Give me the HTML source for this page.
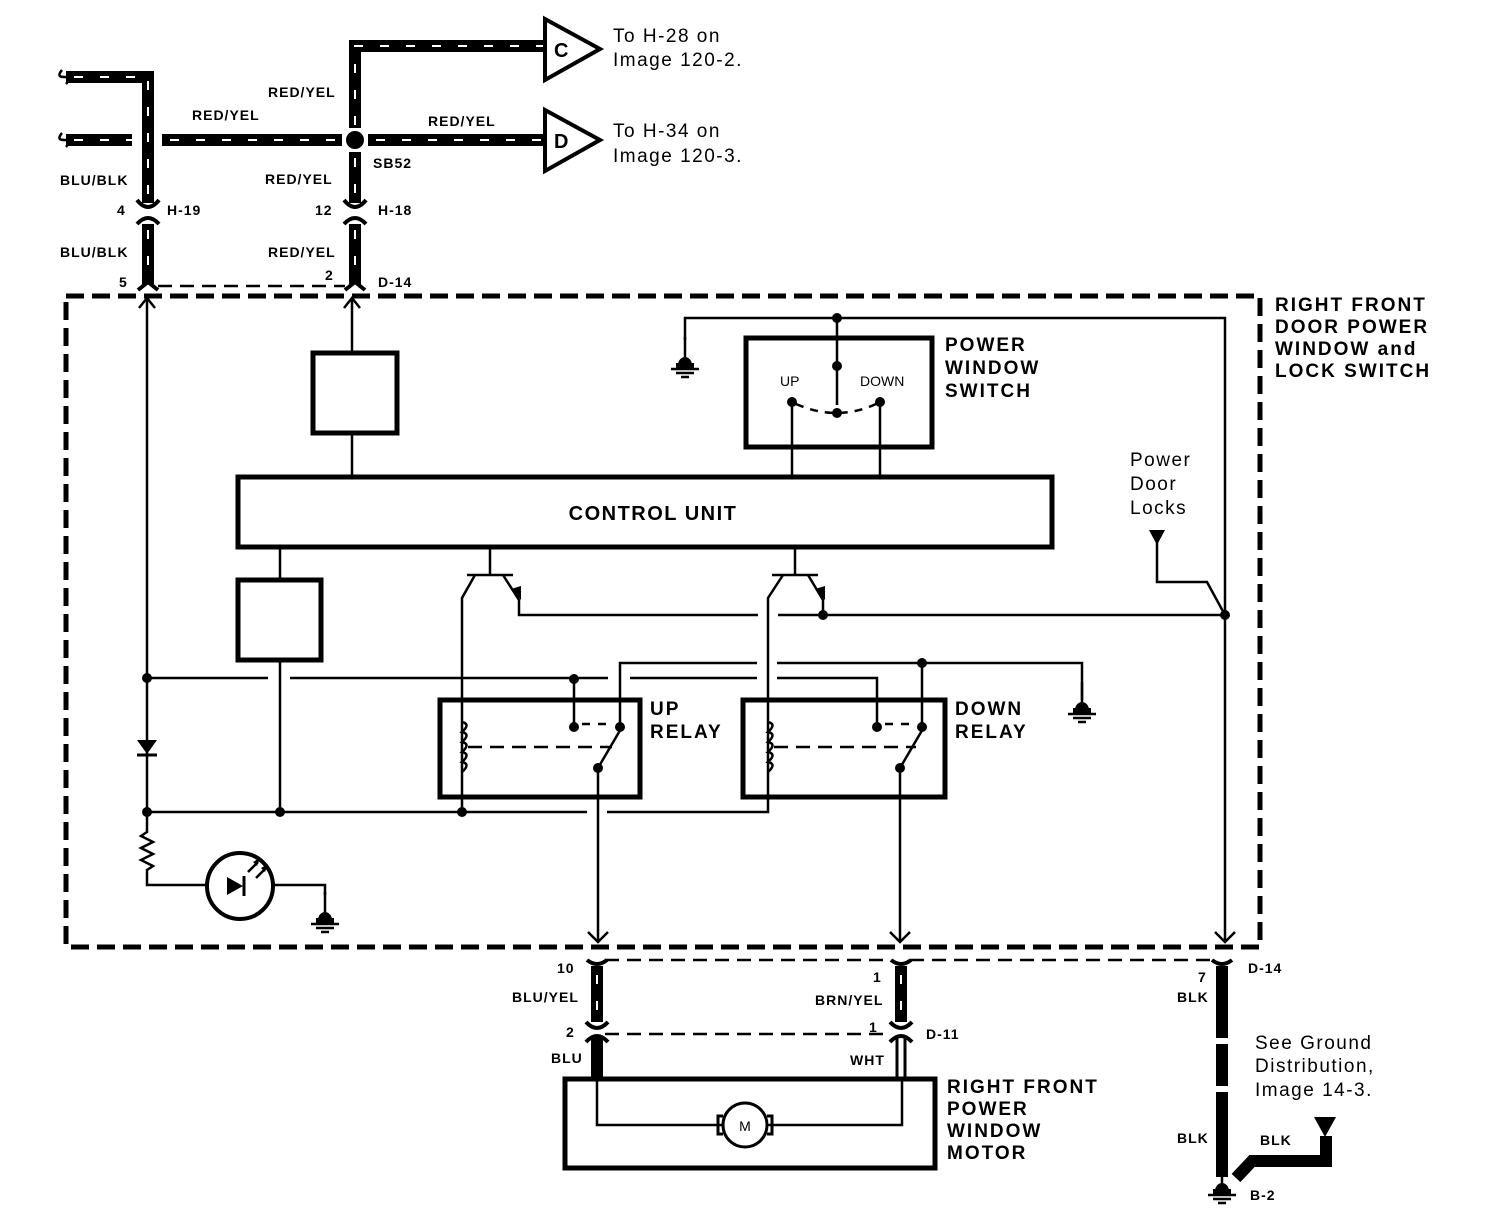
<!DOCTYPE html>
<html><head><meta charset="utf-8"><style>
html,body{margin:0;padding:0;background:#fff}
svg{display:block}
text{font-family:"Liberation Sans",Arial,sans-serif;fill:#000}
.b{font-weight:bold;font-size:14px;letter-spacing:1px}
.L{font-weight:bold;font-size:19px;letter-spacing:2px}
.n{font-size:19px;letter-spacing:1.5px}
.w{fill:none;stroke:#000;stroke-width:2.5}
.h{fill:none;stroke:#000;stroke-width:12}
.hd{fill:none;stroke:#fff;stroke-width:2;stroke-dasharray:9 17}
.bx{fill:none;stroke:#000;stroke-width:5}
.dl{fill:none;stroke:#000;stroke-width:5;stroke-dasharray:18 8}
.dt{fill:none;stroke:#000;stroke-width:2.5;stroke-dasharray:14 8}
.c{fill:none;stroke:#000;stroke-width:4}
</style></head><body>
<svg width="1504" height="1228" viewBox="0 0 1504 1228" xmlns="http://www.w3.org/2000/svg">
<defs>
<g id="gnd"><line x1="0" y1="-20" x2="0" y2="0" stroke="#000" stroke-width="2.5"/><path d="M-7,8 A7,8 0 0 1 7,8 Z" fill="#000"/><rect x="-9" y="6" width="18" height="5" fill="#000"/><line x1="-14" y1="12" x2="14" y2="12" stroke="#000" stroke-width="2.5"/><line x1="-9" y1="16" x2="9" y2="16" stroke="#000" stroke-width="2.5"/><line x1="-4" y1="20" x2="4" y2="20" stroke="#000" stroke-width="2.5"/></g>
<g id="dot"><circle r="5" fill="#000"/></g>
</defs>

<!-- TOP HARNESS -->
<path class="h" d="M66,77 H148 V203"/><path class="hd" d="M74,77 H148 V203"/>
<path class="h" d="M148,224 V284"/><path class="hd" d="M148,230 V280"/>
<path class="h" d="M66,140 H132"/><path class="hd" d="M74,140 H132"/>
<path class="h" d="M162,140 H342"/><path class="hd" d="M170,140 H342"/>
<path class="h" d="M368,140 H545"/><path class="hd" d="M376,140 H545"/>
<path class="h" d="M355,128 V46 H545"/><path class="hd" d="M355,125 V46 H545"/>
<path class="h" d="M355,152 V203"/><path class="hd" d="M355,158 V203"/>
<path class="h" d="M355,224 V284"/><path class="hd" d="M355,230 V280"/>
<circle cx="355" cy="140" r="9" fill="#000"/>
<path d="M62,70 q-6,7 2,7 q8,0 2,7 M62,133 q-6,7 2,7 q8,0 2,7" class="w"/>
<path class="c" d="M137,200 Q148,214 159,200 M137,224 Q148,212 159,224"/>
<path class="c" d="M344,200 Q355,214 366,200 M344,224 Q355,212 366,224"/>
<path class="c" d="M138,290 L148,282 L158,290 M345,290 L355,282 L365,290"/>
<line x1="158" y1="286" x2="345" y2="286" stroke="#000" stroke-width="2.5" stroke-dasharray="14 8"/>
<path d="M545,19 L600,49 L545,80 Z" fill="none" stroke="#000" stroke-width="4"/>
<path d="M545,110 L600,140 L545,171 Z" fill="none" stroke="#000" stroke-width="4"/>
<text x="554" y="57" style="font-weight:bold;font-size:20px">C</text>
<text x="554" y="148" style="font-weight:bold;font-size:20px">D</text>
<text class="n" x="613" y="42">To H-28 on</text><text class="n" x="613" y="66">Image 120-2.</text>
<text class="n" x="613" y="137">To H-34 on</text><text class="n" x="613" y="162">Image 120-3.</text>
<g class="b">
<text x="268" y="97">RED/YEL</text>
<text x="192" y="120">RED/YEL</text>
<text x="428" y="126">RED/YEL</text>
<text x="373" y="168">SB52</text>
<text x="60" y="185">BLU/BLK</text>
<text x="265" y="184">RED/YEL</text>
<text x="117" y="215">4</text><text x="167" y="215">H-19</text>
<text x="315" y="215">12</text><text x="378" y="215">H-18</text>
<text x="60" y="257">BLU/BLK</text>
<text x="268" y="257">RED/YEL</text>
<text x="119" y="287">5</text><text x="325" y="280">2</text><text x="378" y="287">D-14</text>
</g>

<path class="dl" d="M66,296 H1260 V947 H66 Z"/>
<g class="L">
<text x="1275" y="311">RIGHT FRONT</text><text x="1275" y="333">DOOR POWER</text>
<text x="1275" y="355">WINDOW and</text><text x="1275" y="377">LOCK SWITCH</text>
</g>

<path class="w" d="M147,298 V812"/>
<path class="w" d="M139,308 L147,298 L155,308 M344,308 L352,298 L360,308"/>
<path class="w" d="M352,298 V353 M352,433 V477"/>
<rect class="bx" x="313" y="353" width="84" height="80"/>
<rect class="bx" x="238" y="477" width="814" height="70"/>
<text x="653" y="520" text-anchor="middle" style="font-weight:bold;font-size:20px;letter-spacing:1.5px">CONTROL UNIT</text>
<path class="w" d="M280,547 V580 M280,660 V812"/>
<rect class="bx" x="238" y="580" width="83" height="80"/>
<path d="M137,740 H157 L147,754 Z" fill="#000"/><line x1="137" y1="755" x2="157" y2="755" stroke="#000" stroke-width="3"/>
<path class="w" d="M147,812 V832 L141,836 L153,842 L141,848 L153,854 L141,860 L153,866 L147,870 V885 H207 M273,885 H325 V895"/>
<circle cx="240" cy="886" r="33" fill="none" stroke="#000" stroke-width="4"/>
<path d="M227,877 L243,886 L227,895 Z" fill="#000"/><line x1="244" y1="876" x2="244" y2="896" stroke="#000" stroke-width="3"/>
<path class="w" d="M248,872 L258,862 M256,878 L266,868"/>
<path d="M260,858 L253,862 L257,866 Z M268,864 L261,868 L265,872 Z" fill="#000"/>
<use href="#gnd" x="325" y="912"/>
<path class="w" d="M147,678 H268 M290,678 H608 M630,678 H757 M777,678 H877 V727"/>
<path class="w" d="M620,727 V663 H757 M777,663 H1082 V700"/>
<use href="#gnd" x="1082" y="702"/>
<path class="w" d="M147,812 H587 M607,812 H768 V598 L783,575"/>
<use href="#dot" x="147" y="678"/><use href="#dot" x="147" y="812"/><use href="#dot" x="280" y="812"/><use href="#dot" x="462" y="812"/>
<use href="#dot" x="574" y="679"/><use href="#dot" x="922" y="663"/>
<path class="w" d="M490,547 V575 M467,575 H513 M475,575 L462,598 V812 M503,575 L519,600 V615 H758 M778,615 H1225"/>
<path d="M511,589 L521,600 L521,586 Z" fill="#000"/>
<path class="w" d="M795,547 V575 M772,575 H818 M808,575 L823,600 V615"/>
<path d="M815,589 L825,600 L825,586 Z" fill="#000"/>
<use href="#dot" x="823" y="615"/><use href="#dot" x="1225" y="615"/>
<rect class="bx" x="440" y="700" width="200" height="97"/>
<rect class="bx" x="743" y="700" width="202" height="97"/>
<path class="w" d="M462,722 q9,2 0,10 q9,2 0,10 q9,2 0,10 q9,2 0,10 q9,2 0,10"/>
<path class="w" d="M768,722 q9,2 0,10 q9,2 0,10 q9,2 0,10 q9,2 0,10 q9,2 0,10"/>
<path class="dt" d="M468,747 H612 M774,747 H916"/>
<path class="w" d="M574,679 V727 M598,768 L622,727 M598,768 V942"/>
<path class="w" d="M922,663 V727 M900,768 L924,727 M900,768 V942"/>
<path class="dt" d="M582,724 H610 M885,724 H913" style="stroke-dasharray:8 8"/>
<use href="#dot" x="574" y="727"/><use href="#dot" x="620" y="727"/><use href="#dot" x="598" y="768"/>
<use href="#dot" x="877" y="727"/><use href="#dot" x="922" y="727"/><use href="#dot" x="900" y="768"/>
<g class="L"><text x="650" y="715">UP</text><text x="650" y="738">RELAY</text>
<text x="955" y="715">DOWN</text><text x="955" y="738">RELAY</text></g>
<path class="w" d="M685,340 V318 H1225 V940 M837,318 V405"/>
<use href="#gnd" x="685" y="357"/>
<rect class="bx" x="746" y="338" width="186" height="109"/>
<use href="#dot" x="837" y="318"/><use href="#dot" x="837" y="366"/><use href="#dot" x="837" y="413"/>
<use href="#dot" x="792" y="402"/><use href="#dot" x="880" y="402"/>
<path class="w" d="M792,402 V477 M880,402 V477"/>
<path d="M796,404 Q837,422 876,404" fill="none" stroke="#000" stroke-width="2.5" stroke-dasharray="8 7"/>
<text x="780" y="386" style="font-size:14px">UP</text><text x="860" y="386" style="font-size:14px">DOWN</text>
<g class="L"><text x="945" y="351">POWER</text><text x="945" y="374">WINDOW</text><text x="945" y="397">SWITCH</text></g>
<text class="n" x="1130" y="466">Power</text><text class="n" x="1130" y="490">Door</text><text class="n" x="1130" y="514">Locks</text>
<path d="M1149,530 H1165 L1157,545 Z" fill="#000"/>
<path class="w" d="M1157,540 V582 H1207 L1225,615"/>
<path class="w" d="M588,932 L598,942 L608,932 M890,932 L900,942 L910,932 M1215,932 L1225,942 L1235,932"/>

<path class="dt" d="M605,960 H890 M910,960 H1215"/>
<path class="dt" d="M605,1034 H890"/>
<path class="h" d="M597,966 V1022"/><path class="hd" d="M597,975 V1022"/>
<path class="h" d="M901,966 V1022"/><path class="hd" d="M901,975 V1022"/>
<path class="c" d="M587,960 Q597,968 607,960 M891,960 Q901,968 911,960 M1212,960 Q1222,968 1232,960"/>
<path class="c" d="M586,1022 Q597,1034 608,1022 M890,1022 Q901,1034 912,1022"/>
<path class="c" d="M586,1042 Q597,1030 608,1042 M890,1042 Q901,1030 912,1042"/>
<path class="h" d="M597,1036 V1080"/>
<path d="M897,1036 V1080 M905,1036 V1080" fill="none" stroke="#000" stroke-width="3"/>
<path class="h" d="M1222,966 V1038 M1222,1044 V1086 M1222,1092 V1177"/>
<rect class="bx" x="565" y="1079" width="370" height="89"/>
<path class="w" d="M597,1080 V1125 H722 M768,1125 H902 V1080"/>
<circle cx="745" cy="1125" r="22" fill="none" stroke="#000" stroke-width="3"/>
<path d="M723,1116 h-5 v18 h5 M767,1116 h5 v18 h-5" fill="none" stroke="#000" stroke-width="3"/>
<text x="745" y="1131" text-anchor="middle" style="font-size:14px">M</text>
<g class="b">
<text x="557" y="973">10</text><text x="512" y="1002">BLU/YEL</text>
<text x="566" y="1037">2</text><text x="551" y="1063">BLU</text>
<text x="873" y="982">1</text><text x="815" y="1005">BRN/YEL</text>
<text x="869" y="1032">1</text><text x="926" y="1039">D-11</text>
<text x="850" y="1065">WHT</text>
<text x="1198" y="982">7</text><text x="1177" y="1002">BLK</text><text x="1248" y="973">D-14</text>
<text x="1177" y="1143">BLK</text><text x="1260" y="1145">BLK</text><text x="1250" y="1200">B-2</text>
</g>
<g class="L"><text x="947" y="1093">RIGHT FRONT</text><text x="947" y="1115">POWER</text><text x="947" y="1137">WINDOW</text><text x="947" y="1159">MOTOR</text></g>
<text class="n" x="1255" y="1049">See Ground</text><text class="n" x="1255" y="1072">Distribution,</text><text class="n" x="1255" y="1096">Image 14-3.</text>
<path d="M1236,1178 L1252,1161 H1326 V1136" fill="none" stroke="#000" stroke-width="12"/>
<path d="M1314,1117 H1336 L1325,1137 Z" fill="#000"/>
<use href="#gnd" x="1222" y="1183"/>
</svg>
</body></html>
